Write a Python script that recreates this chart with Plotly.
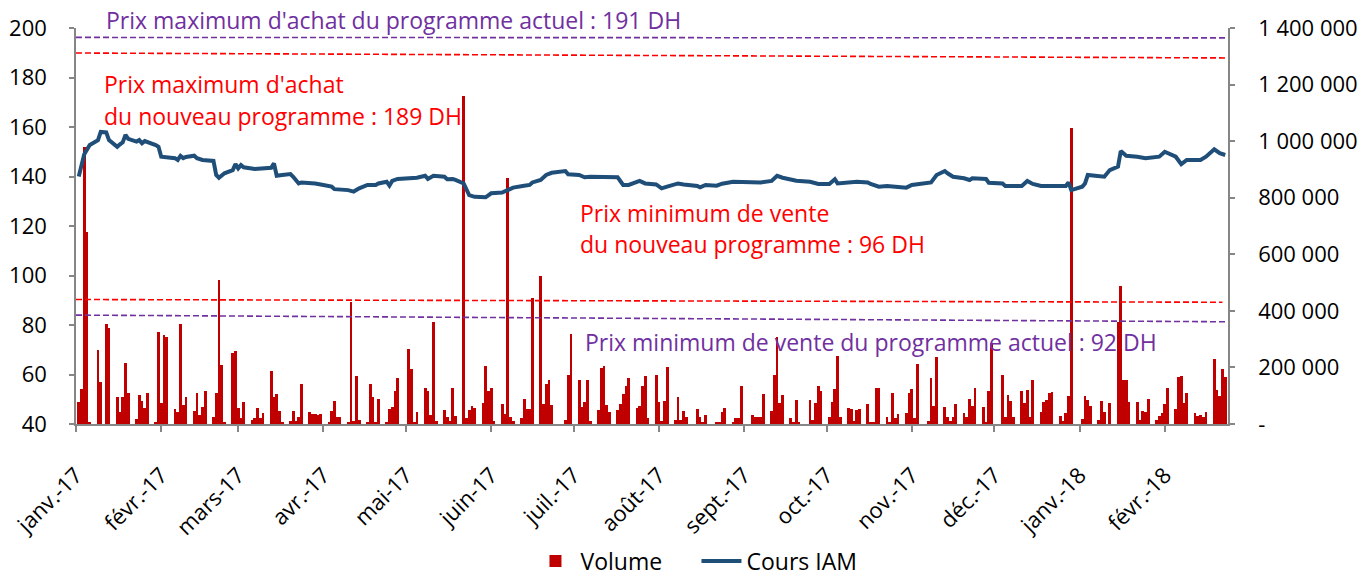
import pandas as pd
import plotly.graph_objects as go

# ---------------- data ----------------
# Daily traded volume (thousands of shares), one row per week (Mon..Fri), 0 = no session
vol_weeks_k = [
    [79, 123, 979, 680, 5],      # 2017-01-02
    [263, 150, 0, 355, 340],     # 01-09
    [97, 44, 94, 215, 111],      # 01-16
    [17, 103, 82, 58, 108],      # 01-23
    [8, 324, 73, 314, 308],      # 01-30
    [52, 44, 354, 67, 97],       # 02-06
    [46, 108, 32, 60, 115],      # 02-13
    [24, 111, 510, 210, 5],      # 02-20
    [251, 259, 58, 20, 77],      # 02-27
    [14, 22, 56, 22, 38],        # 03-06
    [186, 97, 107, 47, 5],       # 03-13
    [9, 47, 9, 24, 142],         # 03-20
    [41, 36, 36, 33, 36],        # 03-27
    [6, 47, 80, 26, 24],         # 04-03
    [6, 430, 12, 170, 14],       # 04-10
    [6, 142, 97, 6, 89],         # 04-17
    [6, 53, 59, 115, 162],       # 04-24
    [0, 264, 195, 6, 41],        # 05-01
    [128, 118, 33, 359, 9],      # 05-08
    [50, 26, 12, 127, 30],       # 05-15
    [1158, 20, 50, 62, 56],      # 05-22
    [73, 204, 115, 128, 10],     # 05-29
    [71, 36, 870, 26, 9],        # 06-05
    [20, 88, 53, 53, 445],       # 06-12
    [523, 71, 142, 154, 68],     # 06-19
    [0, 0, 14, 172, 317],        # 06-26
    [154, 59, 79, 156, 10],      # 07-03
    [51, 198, 206, 67, 41],      # 07-10
    [50, 69, 107, 136, 163],     # 07-17
    [56, 62, 136, 171, 20],      # 07-24
    [174, 77, 10, 80, 201],      # 07-31
    [14, 97, 14, 47, 24],        # 08-07
    [0, 53, 24, 6, 33],          # 08-14
    [0, 4, 6, 44, 57],           # 08-21
    [6, 20, 20, 133, 0],         # 08-28
    [33, 26, 26, 24, 107],       # 09-04
    [47, 175, 308, 75, 103],     # 09-11
    [20, 6, 85, 6, 0],           # 09-18
    [85, 14, 73, 134, 118],      # 09-25
    [24, 77, 124, 240, 26],      # 10-02
    [56, 53, 10, 50, 53],        # 10-09
    [69, 6, 6, 128, 128],        # 10-16
    [24, 6, 110, 21, 36],        # 10-23
    [39, 110, 122, 21, 211],     # 10-30
    [0, 12, 162, 62, 237],       # 11-06
    [59, 24, 9, 24, 71],         # 11-13
    [39, 24, 89, 65, 128],       # 11-20
    [59, 6, 115, 287, 0],        # 11-27
    [174, 24, 101, 81, 24],      # 12-04
    [115, 73, 120, 24, 156],     # 12-11
    [41, 77, 86, 110, 114],      # 12-18
    [27, 9, 39, 98, 1048],       # 12-25
    [0, 18, 98, 84, 63],         # 2018-01-01
    [13, 83, 41, 0, 75],         # 01-08
    [359, 488, 157, 155, 78],    # 01-15
    [77, 13, 47, 43, 90],        # 01-22
    [15, 27, 39, 69, 128],       # 01-29
    [53, 166, 169, 75, 110],     # 02-05
    [39, 27, 33, 24, 43],        # 02-12
    [230, 120, 100, 195, 165],   # 02-19
]

price_dates = [
    "2017-01-02", "2017-01-03", "2017-01-04", "2017-01-06", "2017-01-09", "2017-01-10",
    "2017-01-12", "2017-01-13", "2017-01-16", "2017-01-17", "2017-01-18", "2017-01-19",
    "2017-01-20", "2017-01-23", "2017-01-24", "2017-01-25", "2017-01-26", "2017-01-30",
    "2017-01-31", "2017-02-01", "2017-02-03", "2017-02-06", "2017-02-07", "2017-02-08",
    "2017-02-09", "2017-02-10", "2017-02-13", "2017-02-14", "2017-02-16", "2017-02-20",
    "2017-02-21", "2017-02-22", "2017-02-24", "2017-02-27", "2017-02-28", "2017-03-01",
    "2017-03-02", "2017-03-03", "2017-03-07", "2017-03-10", "2017-03-13", "2017-03-14",
    "2017-03-15", "2017-03-17", "2017-03-20", "2017-03-21", "2017-03-23", "2017-03-24",
    "2017-03-27", "2017-03-29", "2017-03-31", "2017-04-04", "2017-04-05", "2017-04-07",
    "2017-04-10", "2017-04-12", "2017-04-14", "2017-04-17", "2017-04-20", "2017-04-21",
    "2017-04-24", "2017-04-25", "2017-04-26", "2017-04-28", "2017-05-02", "2017-05-05",
    "2017-05-08", "2017-05-09", "2017-05-11", "2017-05-15", "2017-05-16", "2017-05-18",
    "2017-05-19", "2017-05-22", "2017-05-24", "2017-05-26", "2017-05-30", "2017-06-01",
    "2017-06-05", "2017-06-07", "2017-06-09", "2017-06-13", "2017-06-15", "2017-06-16",
    "2017-06-19", "2017-06-21", "2017-06-23", "2017-06-28", "2017-06-29", "2017-07-03",
    "2017-07-05", "2017-07-07", "2017-07-11", "2017-07-17", "2017-07-19", "2017-07-21",
    "2017-07-25", "2017-07-27", "2017-07-31", "2017-08-02", "2017-08-04", "2017-08-08",
    "2017-08-10", "2017-08-15", "2017-08-16", "2017-08-18", "2017-08-22", "2017-08-24",
    "2017-08-28", "2017-09-04", "2017-09-07", "2017-09-11", "2017-09-13", "2017-09-15",
    "2017-09-20", "2017-09-25", "2017-09-28", "2017-10-02", "2017-10-04", "2017-10-05",
    "2017-10-09", "2017-10-12", "2017-10-16", "2017-10-17", "2017-10-20", "2017-10-23",
    "2017-10-26", "2017-10-30", "2017-11-01", "2017-11-03", "2017-11-08", "2017-11-10",
    "2017-11-13", "2017-11-14", "2017-11-16", "2017-11-20", "2017-11-22", "2017-11-23",
    "2017-11-28", "2017-11-29", "2017-12-04", "2017-12-05", "2017-12-11", "2017-12-13",
    "2017-12-15", "2017-12-18", "2017-12-21", "2017-12-27", "2017-12-28", "2017-12-29",
    "2018-01-02", "2018-01-03", "2018-01-04", "2018-01-08", "2018-01-10", "2018-01-12",
    "2018-01-15", "2018-01-16", "2018-01-18", "2018-01-22", "2018-01-25", "2018-01-30",
    "2018-02-01", "2018-02-05", "2018-02-07", "2018-02-09", "2018-02-14", "2018-02-16",
    "2018-02-19", "2018-02-21", "2018-02-23",
]
price_values = [
    140.0, 144.0, 149.0, 152.7, 154.7, 158.0,
    157.8, 154.7, 152.0, 153.0, 153.8, 156.8,
    155.2, 154.1, 154.7, 153.4, 154.3, 152.7,
    152.0, 148.0, 147.8, 147.4, 146.7, 148.3,
    147.4, 147.9, 148.4, 147.4, 146.7, 146.3,
    140.6, 139.5, 141.3, 142.6, 145.0, 143.3,
    144.6, 143.7, 143.0, 143.3, 143.5, 145.3,
    140.3, 140.6, 141.0, 139.9, 137.2, 137.6,
    137.5, 137.2, 136.8, 135.9, 134.9, 134.8,
    134.5, 133.9, 135.2, 136.6, 136.6, 137.2,
    137.9, 136.3, 138.2, 139.0, 139.3, 139.5,
    140.3, 139.0, 140.3, 139.9, 138.9, 139.0,
    138.6, 137.2, 132.5, 131.8, 131.6, 133.2,
    133.5, 134.5, 135.5, 136.3, 136.6, 137.6,
    138.6, 140.6, 141.5, 142.2, 140.9, 140.6,
    139.7, 139.9, 139.9, 139.7, 136.6, 136.6,
    138.2, 137.2, 136.8, 135.2, 135.9, 137.2,
    136.8, 136.2, 135.6, 136.6, 136.3, 137.1,
    137.9, 137.5, 137.6, 138.2, 140.3, 139.5,
    138.3, 137.9, 137.0, 137.0, 138.9, 137.2,
    137.6, 137.9, 137.6, 137.0, 135.9, 136.2,
    135.9, 135.5, 136.6, 137.0, 137.6, 140.6,
    142.2, 141.3, 139.9, 139.3, 138.6, 139.3,
    139.0, 137.5, 137.2, 136.2, 136.2, 138.2,
    137.0, 136.2, 136.2, 136.2, 137.6, 134.5,
    135.9, 137.2, 140.6, 140.3, 139.9, 142.6,
    144.0, 150.3, 148.4, 148.0, 147.4, 148.0,
    150.0, 148.0, 145.0, 146.7, 146.7, 148.0,
    151.0, 149.4, 148.7,
]

month_ticks = ["2017-01-01", "2017-02-01", "2017-03-01", "2017-04-01", "2017-05-01",
               "2017-06-01", "2017-07-01", "2017-08-01", "2017-09-01", "2017-10-01",
               "2017-11-01", "2017-12-01", "2018-01-01", "2018-02-01"]
month_labels = ["janv.-17", "févr.-17", "mars-17", "avr.-17", "mai-17", "juin-17",
                "juil.-17", "août-17", "sept.-17", "oct.-17", "nov.-17", "déc.-17",
                "janv.-18", "févr.-18"]

left_ticks = [40, 60, 80, 100, 120, 140, 160, 180, 200]
right_ticks = [0, 200000, 400000, 600000, 800000, 1000000, 1200000, 1400000]
right_labels = ["-", "200 000", "400 000", "600 000", "800 000", "1 000 000",
                "1 200 000", "1 400 000"]

# reference price lines (drawn levels at start / end of the period, left axis)
ref_names = ["max_actuel", "max_nouveau", "min_nouveau", "min_actuel"]
ref_start = [196.2, 189.9, 90.3, 84.0]
ref_end = [196.0, 187.9, 89.2, 81.3]
ref_end_dates = ["2018-02-24", "2018-02-23", "2018-02-22", "2018-02-24"]
ref_colors = ["#7030A0", "#FF0000", "#FF0000", "#7030A0"]

# ---------------- figure ----------------
trade_dates = pd.bdate_range("2017-01-02", "2018-02-23")
volumes = [v * 1000 for week in vol_weeks_k for v in week]

RED = "#C00000"
BLUE = "#1F4E79"
PURPLE = "#7030A0"
FONT = "Open Sans"
AXIS_GREY = "#868686"

fig = go.Figure()
fig.add_trace(go.Bar(
    x=trade_dates, y=volumes, name="Volume", yaxis="y",
    marker=dict(color=RED, line=dict(width=0)),
    width=1.0 * 86400000,
))
fig.add_trace(go.Scatter(
    x=price_dates, y=price_values, name="Cours IAM", yaxis="y2",
    mode="lines", line=dict(color=BLUE, width=4),
))

shapes = []
for y0, y1, xe, col in zip(ref_start, ref_end, ref_end_dates, ref_colors):
    shapes.append(dict(type="line", xref="x", yref="y2", x0="2017-01-01", x1=xe,
                       y0=y0, y1=y1, line=dict(color=col, width=1.6, dash="6px,3px")))

def note(text, x, y, color):
    return dict(text=text, xref="paper", yref="paper", x=x, y=y, xanchor="left",
                yanchor="middle", showarrow=False, font=dict(family=FONT, size=23, color=color))

annotations = [
    note("Prix maximum d'achat du programme actuel : 191 DH", 0.0243, 1.0202, PURPLE),
    note("Prix maximum d'achat", 0.0226, 0.8586, "#FF0000"),
    note("du nouveau programme : 189 DH", 0.0226, 0.7778, "#FF0000"),
    note("Prix minimum de vente", 0.4358, 0.5328, "#FF0000"),
    note("du nouveau programme : 96 DH", 0.4358, 0.4545, "#FF0000"),
    note("Prix minimum de vente du programme actuel : 92 DH", 0.4401, 0.2071, PURPLE),
]

axis_common = dict(showgrid=False, zeroline=False, showline=True, linecolor=AXIS_GREY,
                   linewidth=1.5, ticks="outside", ticklen=5, tickcolor=AXIS_GREY,
                   tickwidth=1.5, automargin=False,
                   tickfont=dict(family=FONT, size=22, color="black"))

fig.update_layout(
    width=1368, height=577,
    margin=dict(l=76, r=140, t=28, b=153, autoexpand=False),
    plot_bgcolor="white", paper_bgcolor="white",
    font=dict(family=FONT, color="black"),
    bargap=0,
    xaxis=dict(type="date", range=["2017-01-01", "2018-02-24"],
               tickvals=month_ticks, ticktext=month_labels, tickangle=-45,
               ticklabelstandoff=22,
               **{**axis_common, "ticklen": 6}),
    yaxis=dict(side="right", range=[0, 1400000], tickvals=right_ticks,
               ticktext=right_labels, ticklabelstandoff=19, **axis_common),
    yaxis2=dict(side="left", overlaying="y", range=[40, 200], tickvals=left_ticks,
                ticklabelstandoff=18, **axis_common),
    shapes=shapes,
    annotations=annotations,
    showlegend=True,
    legend=dict(orientation="h", x=0.5386, xanchor="center", y=-0.346, yanchor="middle",
                font=dict(family=FONT, size=23, color="black"),
                bgcolor="rgba(0,0,0,0)", itemwidth=40, borderwidth=0,
                entrywidth=111, entrywidthmode="pixels"),
)

fig.write_html("out.html", config={"displayModeBar": False},
               post_script="document.body.style.margin='0';")
